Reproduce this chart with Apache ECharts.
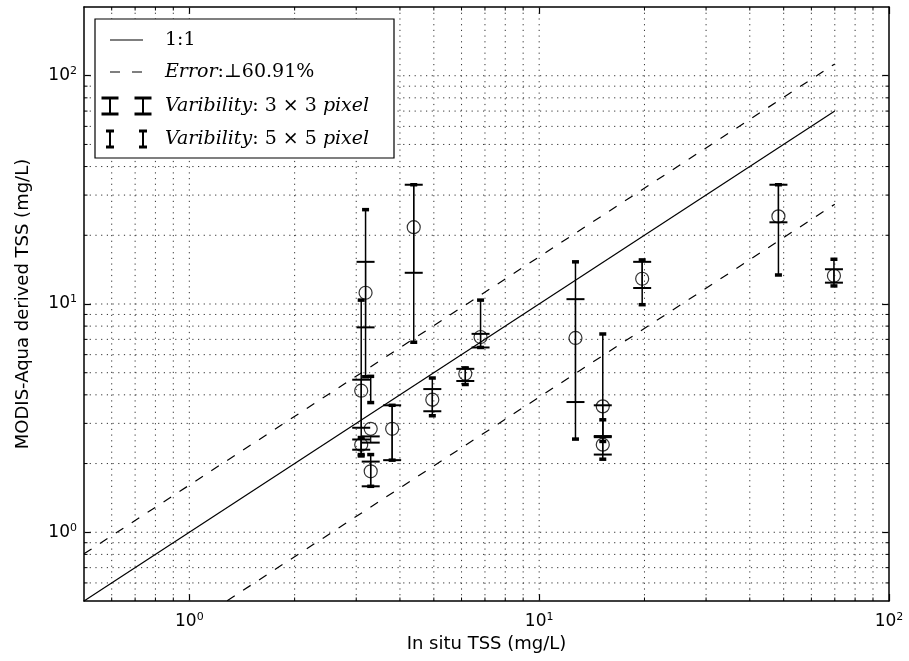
<!DOCTYPE html>
<html>
<head>
<meta charset="utf-8">
<script src="https://cdn.jsdelivr.net/npm/echarts@6/dist/echarts.min.js"></script>
<style>
  html, body { margin: 0; padding: 0; background: #fff; }
  #chart { width: 909px; height: 661px; }
</style>
</head>
<body>
<div id="chart"></div>
<script>
// In situ vs satellite-derived total suspended solids (TSS), log-log
const tssInSitu = [3.19, 3.10, 3.30, 3.10, 3.30, 3.80, 4.38, 4.95, 6.15, 6.80, 12.7, 15.2, 15.2, 19.7, 48.3, 69.6];
const tssModis  = [11.2, 4.17, 2.84, 2.42, 1.85, 2.84, 21.7, 3.81, 4.95, 7.17, 7.10, 3.56, 2.42, 12.9, 24.2, 13.3];
// variability ranges of the 3x3 pixel window
const var3Low   = [7.9, 2.87, 2.47, 2.30, 1.59, 2.07, 13.7, 3.39, 4.60, 6.45, 3.72, 2.64, 2.19, 11.75, 22.8, 12.4];
const var3High  = [15.3, 4.66, 2.63, 2.55, 2.04, 3.60, 33.3, 4.24, 5.20, 7.40, 10.5, 3.60, 2.61, 15.3, 33.3, 14.2];
// variability ranges of the 5x5 pixel window
const var5Low   = [4.8, 2.19, 3.70, 2.16, 1.59, 2.07, 6.8, 3.24, 4.44, 6.45, 2.56, 2.50, 2.09, 9.93, 13.4, 12.0];
const var5High  = [25.9, 10.4, 4.82, 2.60, 2.19, 3.60, 33.3, 4.74, 5.25, 10.4, 15.3, 7.39, 3.11, 15.6, 33.3, 15.7];

// reference lines
const refLineX = [0.5, 70];
const errRate = 0.6091;

// axis ranges and tick values
const xRange = [0.5, 100];
const yRange = [0.5, 200];
const majorTicks = [1, 10, 100];
const xGridVals = [0.6, 0.7, 0.8, 0.9, 1, 2, 3, 4, 5, 6, 7, 8, 9, 10, 20, 30, 40, 50, 60, 70, 80, 90];
const yGridVals = [0.6, 0.7, 0.8, 0.9, 1, 2, 3, 4, 5, 6, 7, 8, 9, 10, 20, 30, 40, 50, 60, 70, 80, 90, 100];

const legendRows = [
  '1:1',
  '{i|Error}:⊥60.91%',
  '{i|Varibility}: 3 × 3 {i|pixel}',
  '{i|Varibility}: 5 × 5 {i|pixel}'
];

const SANS = 'DejaVu Sans';
const SERIF = 'DejaVu Serif';
const GRID = { left: 84, right: 20, top: 7, bottom: 60 };

const chart = echarts.init(document.getElementById('chart'), null, { renderer: 'canvas' });

function isMajor(v) {
  return majorTicks.indexOf(v) >= 0;
}

function powLabel(v) {
  const e = Math.round(Math.log10(v));
  return '{b|10}{s|' + e + '}';
}

const tickRich = {
  b: { fontFamily: SANS, fontSize: 17, color: '#000', lineHeight: 20 },
  s: { fontFamily: SANS, fontSize: 11, color: '#000', lineHeight: 8, verticalAlign: 'top' }
};

function logAxis(dim, pos, range, showLabel, name) {
  const ax = {
    type: 'log',
    logBase: 10,
    min: range[0],
    max: range[1],
    position: pos,
    gridIndex: 0,
    axisLine: { show: true, onZero: false, lineStyle: { color: '#000', width: 1.5 } },
    axisTick: { show: true, inside: true, length: 7, customValues: majorTicks,
                lineStyle: { color: '#000', width: 1.2 } },
    splitLine: { show: false },
    minorTick: { show: false },
    axisLabel: {
      show: showLabel,
      customValues: majorTicks,
      formatter: powLabel,
      rich: tickRich,
      margin: dim === 'x' ? 11 : 7
    }
  };
  if (name) {
    ax.name = name;
    ax.nameLocation = 'middle';
    ax.nameTextStyle = { fontFamily: SANS, fontSize: 18, color: '#000' };
    ax.nameGap = dim === 'x' ? 33 : 52;
  }
  return ax;
}

// dotted grid lines plus minor ticks on all four sides
function gridLineRender(dir) {
  return function (params, api) {
    const v = api.value(dir === 'v' ? 0 : 1);
    let a, b;
    if (dir === 'v') {
      a = api.coord([v, yRange[0]]);
      b = api.coord([v, yRange[1]]);
    } else {
      a = api.coord([xRange[0], v]);
      b = api.coord([xRange[1], v]);
    }
    const children = [{
      type: 'line',
      shape: { x1: a[0], y1: a[1], x2: b[0], y2: b[1] },
      style: { stroke: '#333', lineWidth: 1, lineDash: [1.2, 4.5] },
      silent: true
    }];
    if (!isMajor(v)) {
      const t = 3.5;
      if (dir === 'v') {
        children.push({ type: 'line', shape: { x1: a[0], y1: a[1], x2: a[0], y2: a[1] - t }, style: { stroke: '#000', lineWidth: 1 } });
        children.push({ type: 'line', shape: { x1: b[0], y1: b[1], x2: b[0], y2: b[1] + t }, style: { stroke: '#000', lineWidth: 1 } });
      } else {
        children.push({ type: 'line', shape: { x1: a[0], y1: a[1], x2: a[0] + t, y2: a[1] }, style: { stroke: '#000', lineWidth: 1 } });
        children.push({ type: 'line', shape: { x1: b[0], y1: b[1], x2: b[0] - t, y2: b[1] }, style: { stroke: '#000', lineWidth: 1 } });
      }
    }
    return { type: 'group', children: children };
  };
}

// vertical variability bar with caps
function errorBarRender(capW, capH, lineW) {
  return function (params, api) {
    const x = api.value(0);
    const pLo = api.coord([x, api.value(1)]);
    const pHi = api.coord([x, api.value(2)]);
    return {
      type: 'group',
      children: [
        { type: 'line', shape: { x1: pLo[0], y1: pLo[1], x2: pHi[0], y2: pHi[1] },
          style: { stroke: '#000', lineWidth: lineW } },
        { type: 'rect', shape: { x: pLo[0] - capW / 2, y: pLo[1] - capH / 2, width: capW, height: capH },
          style: { fill: '#000' } },
        { type: 'rect', shape: { x: pHi[0] - capW / 2, y: pHi[1] - capH / 2, width: capW, height: capH },
          style: { fill: '#000' } }
      ]
    };
  };
}

const points = tssInSitu.map((x, i) => [x, tssModis[i]]);
const bars3 = tssInSitu.map((x, i) => [x, var3Low[i], var3High[i]]);
const bars5 = tssInSitu.map((x, i) => [x, var5Low[i], var5High[i]]);
const lineOne = refLineX.map(x => [x, x]);
const lineUp = refLineX.map(x => [x, x * (1 + errRate)]);
const lineDown = refLineX.map(x => [x, x * (1 - errRate)]);

// legend box drawn as graphics
const LX = 95, LY = 19, LW = 299, LH = 139;
const rowY = [40, 72, 106, 139];
const iconX = [110, 143];
const textX = 165;
const legendGraphics = [
  { type: 'rect', shape: { x: LX, y: LY, width: LW, height: LH },
    style: { fill: '#fff', stroke: '#000', lineWidth: 1.2 }, z: 100 },
  { type: 'line', shape: { x1: iconX[0], y1: rowY[0], x2: iconX[1], y2: rowY[0] },
    style: { stroke: '#000', lineWidth: 1.2 }, z: 101 },
  { type: 'line', shape: { x1: iconX[0], y1: rowY[1], x2: iconX[1], y2: rowY[1] },
    style: { stroke: '#000', lineWidth: 1.2, lineDash: [10, 12] }, z: 101 }
];
function legendBar(cx, cy, half, capW, capH) {
  legendGraphics.push({ type: 'line', shape: { x1: cx, y1: cy - half, x2: cx, y2: cy + half },
    style: { stroke: '#000', lineWidth: 2 }, z: 101 });
  legendGraphics.push({ type: 'rect', shape: { x: cx - capW / 2, y: cy - half - capH / 2, width: capW, height: capH },
    style: { fill: '#000' }, z: 101 });
  legendGraphics.push({ type: 'rect', shape: { x: cx - capW / 2, y: cy + half - capH / 2, width: capW, height: capH },
    style: { fill: '#000' }, z: 101 });
}
iconX.forEach(cx => legendBar(cx, rowY[2], 8, 17, 3));
iconX.forEach(cx => legendBar(cx, rowY[3], 8, 8, 3));
legendRows.forEach((txt, i) => {
  legendGraphics.push({
    type: 'text', x: textX, y: rowY[i], z: 101,
    style: {
      text: txt,
      fontFamily: SERIF, fontSize: 19, fill: '#000',
      verticalAlign: 'middle', align: 'left',
      rich: { i: { fontFamily: SERIF, fontSize: 19, fontStyle: 'italic', fill: '#000' } }
    }
  });
});

const option = {
  animation: false,
  backgroundColor: '#fff',
  grid: Object.assign({ containLabel: false }, GRID),
  xAxis: [
    logAxis('x', 'bottom', xRange, true, 'In situ TSS (mg/L)'),
    logAxis('x', 'top', xRange, false, null)
  ],
  yAxis: [
    logAxis('y', 'left', yRange, true, 'MODIS-Aqua derived TSS (mg/L)'),
    logAxis('y', 'right', yRange, false, null)
  ],
  graphic: legendGraphics,
  series: [
    { type: 'custom', name: 'vgrid', renderItem: gridLineRender('v'),
      data: xGridVals.map(v => [v, 1]), z: 1, silent: true, clip: false },
    { type: 'custom', name: 'hgrid', renderItem: gridLineRender('h'),
      data: yGridVals.map(v => [1, v]), z: 1, silent: true, clip: false },
    { type: 'line', name: '1:1', data: lineOne, showSymbol: false, symbol: 'none', clip: true,
      lineStyle: { color: '#000', width: 1.2 }, z: 3 },
    { type: 'line', name: 'upper', data: lineUp, showSymbol: false, symbol: 'none', clip: true,
      lineStyle: { color: '#000', width: 1.2, type: [9, 10] }, z: 3 },
    { type: 'line', name: 'lower', data: lineDown, showSymbol: false, symbol: 'none', clip: true,
      lineStyle: { color: '#000', width: 1.2, type: [9, 10] }, z: 3 },
    { type: 'custom', name: '3x3', renderItem: errorBarRender(18, 2, 1.2), data: bars3, z: 4 },
    { type: 'custom', name: '5x5', renderItem: errorBarRender(7, 3.5, 1.5), data: bars5, z: 4 },
    { type: 'scatter', name: 'TSS', data: points, symbol: 'circle', symbolSize: 13, z: 5,
      itemStyle: { color: 'none', borderColor: '#000', borderWidth: 1.2 } }
  ]
};

chart.setOption(option);
</script>
</body>
</html>
